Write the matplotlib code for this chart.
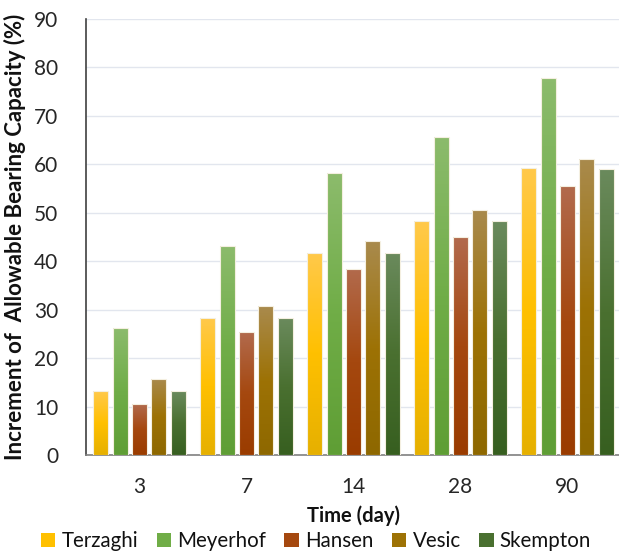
import numpy as np
import matplotlib.pyplot as plt
from matplotlib.colors import LinearSegmentedColormap
from matplotlib.patches import Patch

plt.rcParams['font.family'] = ['Lato', 'DejaVu Sans']

# data
days = ['3', '7', '14', '28', '90']
methods = ['Terzaghi', 'Meyerhof', 'Hansen', 'Vesic', 'Skempton']
terzaghi = [13.2, 28.2, 41.7, 48.3, 59.2]
meyerhof = [26.3, 43.2, 58.3, 65.7, 77.8]
hansen = [10.5, 25.3, 38.4, 45.0, 55.5]
vesic = [15.7, 30.7, 44.1, 50.6, 61.2]
skempton = [13.2, 28.2, 41.7, 48.3, 59.0]
series = [terzaghi, meyerhof, hansen, vesic, skempton]

# (top, middle, bottom) gradient colours per series
grads = [('#ffc94a', '#ffc000', '#e6b000'),
         ('#8cbb6c', '#70ad47', '#5f9e35'),
         ('#b26a4c', '#a5480f', '#9a3c00'),
         ('#a98a4c', '#9d7205', '#8e6800'),
         ('#6a8a5c', '#4a7030', '#375f20')]

fig = plt.figure(figsize=(6.19, 5.54), dpi=100)
ax = fig.add_axes([86/619, 1-455/554, 535/619, 436/554])

x = np.arange(len(days))
pitch = 0.18
width = 0.14
for i, vals in enumerate(series):
    cmap = LinearSegmentedColormap.from_list('g%d' % i, list(grads[i])[::-1])
    bars = ax.bar(x + (i - 2) * pitch, vals, width, color='none',
                  edgecolor='none', zorder=3)
    for b in bars:
        x0, y0 = b.get_x(), b.get_y()
        w, h = b.get_width(), b.get_height()
        grad = np.linspace(0, 1, 100).reshape(-1, 1)
        im = ax.imshow(grad, cmap=cmap, origin='lower', aspect='auto',
                       extent=[x0, x0 + w, y0, y0 + h], zorder=3)
        im.set_clip_path(b)
    ax.bar(x + (i - 2) * pitch, vals, width, color='none',
           edgecolor='#f4efe0', linewidth=0.8, zorder=4)

ax.set_xlim(-0.5, 4.5)
ax.set_ylim(0, 90)
ax.set_yticks(range(0, 91, 10))
ax.set_xticks(x)
ax.set_xticklabels(days)
ax.tick_params(axis='both', length=0, labelsize=15, colors='#262626')
ax.tick_params(axis='x', pad=16)
ax.tick_params(axis='y', pad=20)
ax.grid(axis='y', color='#e2e6ee', linewidth=1, zorder=0)
ax.set_axisbelow(True)
for s in ['top', 'right']:
    ax.spines[s].set_visible(False)
ax.spines['left'].set_color('#404040')
ax.spines['left'].set_linewidth(1.2)
ax.spines['bottom'].set_color('#808080')
ax.spines['bottom'].set_linewidth(1.2)

ax.set_ylabel('Increment of  Allowable Bearing Capacity (%)', fontsize=16,
              fontweight='bold', color='#111111', labelpad=6)
ax.set_xlabel('Time (day)', fontsize=14.5, fontweight='bold', color='#111111',
              labelpad=6)

handles = [Patch(facecolor=g[1], edgecolor='none') for g in grads]
fig.legend(handles, methods, loc='center', bbox_to_anchor=(316/619, 1-541/554),
           ncol=5, frameon=False, fontsize=14.8, handlelength=0.7,
           handleheight=0.7, handletextpad=0.3, columnspacing=0.9,
           labelcolor='#111111')

fig.savefig('out.png', dpi=100)
